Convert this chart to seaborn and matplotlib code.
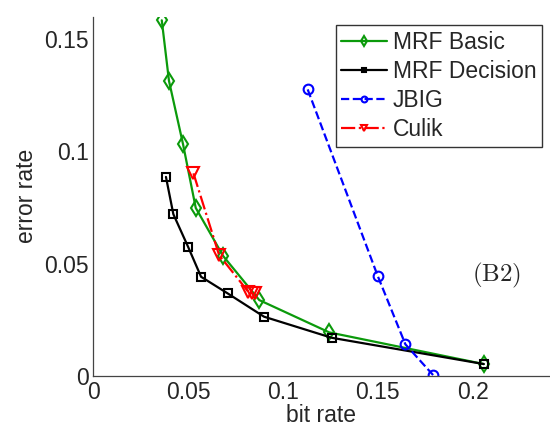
import matplotlib
matplotlib.use("Agg")
import matplotlib.pyplot as plt
import seaborn as sns

# values
basic_x = [0.0361, 0.0399, 0.0473, 0.0540, 0.0685, 0.0875, 0.1244, 0.2058]
basic_y = [0.1584, 0.1314, 0.1032, 0.0748, 0.0533, 0.0337, 0.0193, 0.0052]
decision_x = [0.0383, 0.0422, 0.0501, 0.0568, 0.0708, 0.0900, 0.1257, 0.2058]
decision_y = [0.0886, 0.0720, 0.0572, 0.0441, 0.0367, 0.0263, 0.0169, 0.0052]
jbig_x = [0.1130, 0.1499, 0.1645, 0.1791]
jbig_y = [0.1276, 0.0445, 0.0140, 0.0003]
culik_x = [0.0528, 0.0663, 0.0817, 0.0837, 0.0852]
culik_y = [0.0902, 0.0538, 0.0374, 0.0368, 0.0367]

xticks = [0, 0.05, 0.1, 0.15, 0.2]
yticks = [0, 0.05, 0.1, 0.15]

sns.set_style("white")
plt.rcParams['font.family'] = ['Liberation Sans', 'DejaVu Sans']
plt.rcParams['mathtext.fontset'] = 'cm'

fig = plt.figure(figsize=(5.5, 4.34), dpi=100)
ax = fig.add_axes([0.1696, 0.1343, 0.8279, 0.8272])

green = '#0b9a0b'
sns.lineplot(x=basic_x, y=basic_y, sort=False, estimator=None, ax=ax, color=green,
             lw=1.6, marker='d', ms=8, mfc='none', mec=green, mew=1.5, label='MRF Basic')
sns.lineplot(x=decision_x, y=decision_y, sort=False, estimator=None, ax=ax, color='black',
             lw=1.6, marker='s', ms=6, mfc='none', mec='black', mew=1.5, label='MRF Decision')
sns.lineplot(x=jbig_x, y=jbig_y, sort=False, estimator=None, ax=ax, color='#0000ff',
             lw=1.6, ls='--', marker='o', ms=7, mfc='none', mec='#0000ff', mew=1.5, label='JBIG')
sns.lineplot(x=culik_x, y=culik_y, sort=False, estimator=None, ax=ax, color='#ff0000',
             lw=1.6, ls='-.', marker='v', ms=8, mfc='none', mec='#ff0000', mew=1.5, label='Culik')

ax.set_xlim(0, 0.24)
ax.set_ylim(0, 0.16)
ax.set_xticks(xticks)
ax.set_xticklabels(['0', '0.05', '0.1', '0.15', '0.2'])
ax.set_yticks(yticks)
ax.set_yticklabels(['0', '0.05', '0.1', '0.15'])
ax.tick_params(direction='in', length=5, width=0.8, color='#444444', labelsize=16.5)
ax.tick_params(axis='x', pad=4)
ax.tick_params(axis='y', pad=3)
for s in ['top', 'right']:
    ax.spines[s].set_visible(False)
for s in ['left', 'bottom']:
    ax.spines[s].set_color('#444444')
    ax.spines[s].set_linewidth(0.9)

ax.set_xlabel('bit rate', fontsize=16.5, labelpad=0)
ax.set_ylabel('error rate', fontsize=16.5, labelpad=5)

ax.text(0.2128, 0.0449, r'$\mathrm{(B2)}$', fontsize=18, ha='center', va='center')

leg = ax.legend(loc='upper right', bbox_to_anchor=(0.986, 0.977), fontsize=16.5, frameon=True,
                fancybox=False, handlelength=2.0, handletextpad=0.25, borderpad=0.25,
                labelspacing=0.27, borderaxespad=0, markerscale=0.6)
leg.get_frame().set_edgecolor('black')
leg.get_frame().set_linewidth(1.0)

fig.savefig('out.png', dpi=100)
